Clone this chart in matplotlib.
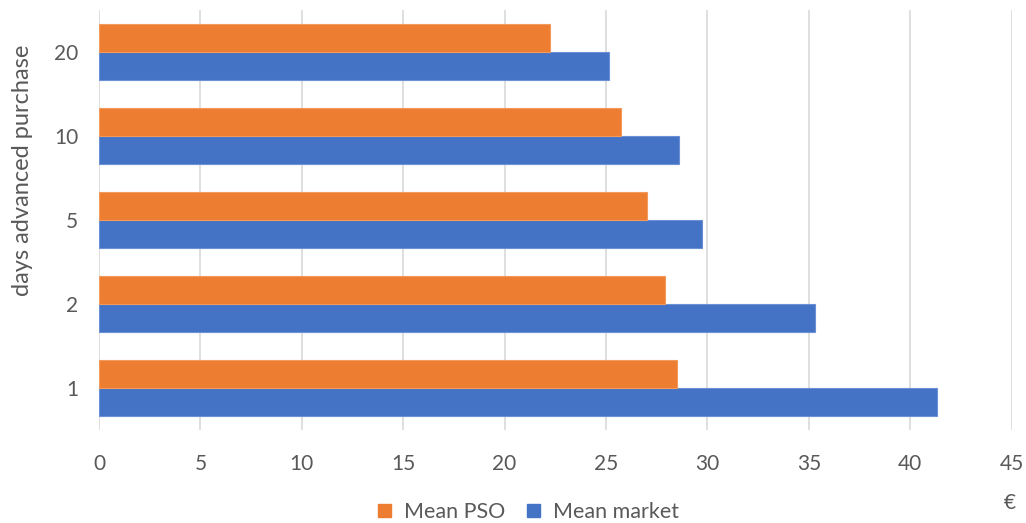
import matplotlib
matplotlib.use("Agg")
import matplotlib.pyplot as plt
from matplotlib.patches import Patch
import numpy as np

categories = ["1", "2", "5", "10", "20"]
mean_pso = [28.5, 27.9, 27.0, 25.75, 22.25]
mean_market = [41.3, 35.3, 29.75, 28.6, 25.15]
x_ticks = [0, 5, 10, 15, 20, 25, 30, 35, 40, 45]

plt.rcParams['font.family'] = ['Lato', 'DejaVu Sans']
gray = '#595959'
c_pso = '#ED7D31'
c_mkt = '#4472C4'

fig = plt.figure(figsize=(10.26, 5.23), dpi=100)
ax = fig.add_axes([0.0965, 0.178, 0.8895, 0.803])

y = np.arange(len(categories))
h = 1/3
ax.barh(y - h/2, mean_market, height=h, color=c_mkt, edgecolor='#6a90d6', linewidth=0.8, zorder=3)
ax.barh(y + h/2, mean_pso, height=h, color=c_pso, edgecolor='#f29a5c', linewidth=0.8, zorder=3)

ax.set_xlim(0, 45)
ax.set_ylim(-0.5, len(categories) - 0.5)
ax.set_xticks(x_ticks)
ax.set_xticklabels([str(t) for t in x_ticks])
ax.set_yticks(y)
ax.set_yticklabels(categories)
ax.grid(axis='x', color='#d9d9d9', linewidth=1.2, zorder=0)
for s in ax.spines.values():
    s.set_visible(False)
ax.tick_params(axis='x', length=0, pad=17, labelsize=15, labelcolor=gray)
ax.tick_params(axis='y', length=0, pad=15, labelsize=15, labelcolor=gray)

fig.text(0.022, 1 - 170/523, "days advanced purchase", rotation=90, ha='center', va='center',
         fontsize=17, color=gray)
fig.text(1010/1026, 1 - 503/523, "€", ha='center', va='center', fontsize=15, color=gray)

handles = [Patch(facecolor=c_pso, edgecolor=c_pso), Patch(facecolor=c_mkt, edgecolor=c_mkt)]
fig.legend(handles, ["Mean PSO", "Mean market"], loc='center', bbox_to_anchor=(0.515, 0.021),
           ncol=2, frameon=False, fontsize=15.5, labelcolor=gray, handlelength=0.6, handleheight=0.6,
           handletextpad=0.6, columnspacing=1.0)

fig.savefig("out.png", dpi=100)
